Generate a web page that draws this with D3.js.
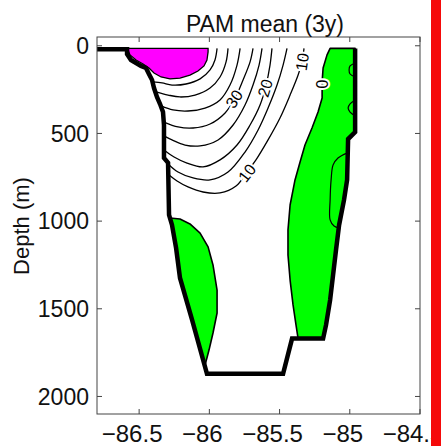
<!DOCTYPE html>
<html>
<head>
<meta charset="utf-8">
<script src="https://cdn.jsdelivr.net/npm/d3@7"></script>
<style>
  body { margin: 0; background: #fff; }
  svg { display: block; font-family: "Liberation Sans", Arial, Helvetica, sans-serif; }
</style>
</head>
<body>
<svg id="chart" width="441" height="446"></svg>
<script>
// Axis limits and ticks (longitude in degrees E, depth in metres)
const lonDomain = [-86.8, -84.5];
const depthDomain = [-50, 2100];
const lonTicks = [-86.5, -86, -85.5, -85, -84.5];
const depthTicks = [0, 500, 1000, 1500, 2000];
const titleText = "PAM mean (3y)";
const depthLabel = "Depth (m)";

// Sea floor / section outline [lon, depth]
const seafloor = [
  [-86.80, 20], [-86.586, 20], [-86.586, 47], [-86.558, 81], [-86.522, 98],
  [-86.487, 115], [-86.451, 127], [-86.430, 161], [-86.408, 195], [-86.394, 241],
  [-86.373, 292], [-86.351, 332], [-86.330, 378], [-86.323, 452], [-86.323, 640],
  [-86.294, 668], [-86.287, 965], [-86.266, 1022], [-86.237, 1153], [-86.209, 1324],
  [-86.123, 1563], [-86.017, 1871], [-85.475, 1871], [-85.411, 1670], [-85.190, 1670],
  [-85.169, 1592], [-85.140, 1450], [-85.119, 1307], [-85.098, 1164], [-85.076, 1022],
  [-85.041, 879], [-85.019, 765], [-85.012, 532], [-84.962, 492], [-84.962, 15]
];

// Core of the current (>= 50 cm/s)
const coreAbove50 = [
  [-86.579, 15], [-86.009, 15], [-86.009, 35], [-86.017, 81], [-86.038, 115],
  [-86.081, 144], [-86.138, 167], [-86.209, 184], [-86.280, 189], [-86.344, 178],
  [-86.394, 155], [-86.430, 127], [-86.472, 104], [-86.522, 81], [-86.565, 52],
  [-86.579, 24]
];

// Counter-flow regions (< 0 cm/s)
const westNegative = [
  [-86.280, 982], [-86.209, 988], [-86.138, 1016], [-86.066, 1068], [-86.009, 1147],
  [-85.974, 1250], [-85.945, 1393], [-85.945, 1524], [-85.974, 1638], [-86.002, 1734],
  [-86.030, 1819], [-86.123, 1563], [-86.209, 1324], [-86.237, 1153], [-86.266, 1022]
];
const eastNegative = [
  [-85.140, 15], [-85.162, 52], [-85.190, 127], [-85.197, 206], [-85.197, 298],
  [-85.226, 378], [-85.269, 469], [-85.319, 566], [-85.354, 663], [-85.390, 765],
  [-85.425, 908], [-85.440, 1050], [-85.440, 1193], [-85.425, 1336], [-85.404, 1478],
  [-85.383, 1592], [-85.368, 1670], [-85.190, 1670], [-85.169, 1592], [-85.140, 1450],
  [-85.119, 1307], [-85.098, 1164], [-85.076, 1022], [-85.041, 879], [-85.019, 765],
  [-85.012, 532], [-84.962, 492], [-84.962, 15]
];

// -5 cm/s contours inside the eastern counter-flow
const eastMinus5 = [
  [[-85.019, 612], [-85.084, 640], [-85.119, 680], [-85.133, 765], [-85.140, 879],
   [-85.140, 993], [-85.112, 1028], [-85.076, 1039]],
  [[-84.962, 98], [-84.998, 115], [-85.005, 138], [-84.998, 161], [-84.962, 178]],
  [[-84.962, 309], [-84.998, 332], [-85.012, 355], [-84.998, 378], [-84.962, 400]]
];

// Positive contours, 10 to 45 cm/s every 5
const contourLevels = [45, 40, 35, 30, 25, 20, 15, 10];
const contourLines = [
  [[-85.945, 15], [-85.960, 81], [-85.995, 138], [-86.066, 189], [-86.166, 218],
   [-86.266, 224], [-86.337, 212], [-86.401, 206]],
  [[-85.867, 15], [-85.881, 92], [-85.924, 178], [-85.995, 241], [-86.102, 281],
   [-86.209, 292], [-86.294, 281], [-86.380, 263]],
  [[-85.781, 15], [-85.803, 110], [-85.853, 224], [-85.924, 309], [-86.031, 355],
   [-86.152, 372], [-86.259, 366], [-86.344, 343]],
  [[-85.689, 15], [-85.710, 92], [-85.760, 195], [-85.817, 298], [-85.888, 383],
   [-85.995, 446], [-86.116, 469], [-86.223, 463], [-86.323, 435]],
  [[-85.625, 15], [-85.646, 110], [-85.689, 224], [-85.746, 338], [-85.831, 452],
   [-85.938, 537], [-86.066, 571], [-86.173, 566], [-86.266, 537], [-86.323, 514]],
  [[-85.554, 15], [-85.568, 110], [-85.596, 224], [-85.639, 338], [-85.710, 452],
   [-85.803, 566], [-85.924, 651], [-86.045, 691], [-86.159, 669], [-86.251, 634],
   [-86.323, 594]],
  [[-85.447, 15], [-85.475, 110], [-85.518, 224], [-85.582, 355], [-85.653, 480],
   [-85.746, 606], [-85.867, 720], [-85.995, 765], [-86.116, 754], [-86.223, 720],
   [-86.294, 674]],
  [[-85.326, 15], [-85.340, 92], [-85.368, 167], [-85.425, 281], [-85.497, 412],
   [-85.582, 537], [-85.668, 651], [-85.732, 720], [-85.810, 800], [-85.924, 839],
   [-86.045, 834], [-86.152, 805], [-86.230, 771], [-86.287, 737]]
];

// Inline contour labels: value and where it sits on its contour
const labelValues = [30, 20, 10, 10, 0];
const labelLon = [-85.824, -85.603, -85.340, -85.732, -85.197];
const labelDepth = [303, 241, 92, 725, 218];

const svg = d3.select("#chart");
const x = d3.scaleLinear(lonDomain, [97, 420]);
const y = d3.scaleLinear(depthDomain, [37, 414]);
const straight = d3.line(d => x(d[0]), d => y(d[1]));
const smooth = d3.line(d => x(d[0]), d => y(d[1])).curve(d3.curveCatmullRom.alpha(0.5));

// Filled regions
svg.append("path").attr("d", straight(coreAbove50) + "Z")
  .attr("fill", "#ff00ff").attr("stroke", "#000").attr("stroke-width", 1.3);
[westNegative, eastNegative].forEach(p => {
  svg.append("path").attr("d", straight(p) + "Z")
    .attr("fill", "#00ff00").attr("stroke", "#000").attr("stroke-width", 1.6)
    .attr("stroke-linejoin", "round");
});

// Contour lines
contourLines.forEach((pts, i) => {
  svg.append("path").attr("class", "c" + contourLevels[i]).attr("d", smooth(pts))
    .attr("fill", "none").attr("stroke", "#000").attr("stroke-width", 1.3);
});
eastMinus5.forEach(pts => {
  svg.append("path").attr("d", smooth(pts))
    .attr("fill", "none").attr("stroke", "#000").attr("stroke-width", 1.2);
});

// Sea floor
svg.append("path").attr("d", straight(seafloor))
  .attr("fill", "none").attr("stroke", "#000").attr("stroke-width", 4.5)
  .attr("stroke-linejoin", "miter");

// Contour labels, rotated along their contour
function lineFor(value) {
  if (value === 0) return eastNegative;
  return contourLines[contourLevels.indexOf(value)];
}
function angleAt(pts, px, py) {
  let best = Infinity, ang = 0;
  for (let i = 0; i < pts.length - 1; i++) {
    const x1 = x(pts[i][0]), y1 = y(pts[i][1]), x2 = x(pts[i + 1][0]), y2 = y(pts[i + 1][1]);
    const dx = x2 - x1, dy = y2 - y1;
    const t = Math.max(0, Math.min(1, ((px - x1) * dx + (py - y1) * dy) / (dx * dx + dy * dy)));
    const d = Math.hypot(x1 + t * dx - px, y1 + t * dy - py);
    if (d < best) { best = d; ang = Math.atan2(dy, dx) * 180 / Math.PI; }
  }
  if (ang >= 90) ang -= 180;
  if (ang < -90) ang += 180;
  return ang;
}
labelValues.forEach((v, i) => {
  const px = x(labelLon[i]), py = y(labelDepth[i]);
  const a = angleAt(lineFor(v), px, py);
  svg.append("text").text(v)
    .attr("transform", `translate(${px},${py}) rotate(${a})`)
    .attr("text-anchor", "middle").attr("dy", "0.36em")
    .attr("font-size", 16).attr("fill", "#000")
    .attr("stroke", "#fff").attr("stroke-width", 4).attr("paint-order", "stroke");
});

// Axes box and inward ticks
const [x0, x1] = x.range(), [y0, y1] = y.range();
svg.append("rect").attr("x", x0).attr("y", y0).attr("width", x1 - x0).attr("height", y1 - y0)
  .attr("fill", "none").attr("stroke", "#444").attr("stroke-width", 1);
const tk = 5;
lonTicks.forEach(v => {
  svg.append("line").attr("x1", x(v)).attr("x2", x(v)).attr("y1", y1).attr("y2", y1 - tk).attr("stroke", "#444");
  svg.append("line").attr("x1", x(v)).attr("x2", x(v)).attr("y1", y0).attr("y2", y0 + tk).attr("stroke", "#444");
});
depthTicks.forEach(v => {
  svg.append("line").attr("x1", x0).attr("x2", x0 + tk).attr("y1", y(v)).attr("y2", y(v)).attr("stroke", "#444");
  svg.append("line").attr("x1", x1).attr("x2", x1 - tk).attr("y1", y(v)).attr("y2", y(v)).attr("stroke", "#444");
});

// Tick labels (longitude labels sit a little left of their ticks)
const fmtLon = d3.format("");
svg.append("g").selectAll("text").data(lonTicks).join("text")
  .attr("x", d => x(d) - 7).attr("y", 442).attr("text-anchor", "middle")
  .attr("font-size", 24).attr("fill", "#111").text(d => fmtLon(d));
svg.append("g").selectAll("text").data(depthTicks).join("text")
  .attr("x", 89).attr("y", d => y(d)).attr("dy", "0.36em").attr("text-anchor", "end")
  .attr("font-size", 23).attr("fill", "#111").text(d => d);

// Title and axis label
svg.append("text").attr("x", 265).attr("y", 32).attr("text-anchor", "middle")
  .attr("font-size", 23).attr("fill", "#111").text(titleText);
svg.append("text").attr("transform", "translate(29,226) rotate(-90)")
  .attr("text-anchor", "middle").attr("font-size", 22).attr("fill", "#111").text(depthLabel);

// Red margin stripe on the right
svg.append("rect").attr("x", 431).attr("y", 0).attr("width", 10).attr("height", 446).attr("fill", "#f50a0a");
</script>
</body>
</html>
